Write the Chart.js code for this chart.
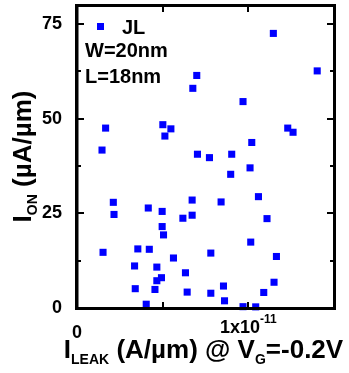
<!DOCTYPE html>
<html>
<head>
<meta charset="utf-8">
<script src="https://cdn.jsdelivr.net/npm/chart.js@4.4.0/dist/chart.umd.min.js"></script>
<style>
  html, body { margin: 0; padding: 0; background: #fff; overflow: hidden; }
  #wrap { width: 349px; height: 373px; }
  canvas { display: block; }
</style>
</head>
<body>
<div id="wrap"><canvas id="chart" width="349" height="373"></canvas></div>
<script>
// leakage current (units of 1e-11 A/um) and on current (uA/um)
var leakX = [1.146, 1.402, 0.699, 0.676, 0.969, 0.167, 0.501, 0.548, 0.513, 1.230,
  1.261, 1.020, 0.146, 0.703, 0.773, 0.903, 1.010, 0.897, 0.212, 0.216,
  0.416, 0.497, 0.672, 0.841, 1.059, 0.618, 0.672, 1.109, 0.497, 0.505,
  1.014, 0.152, 0.355, 0.422, 0.563, 0.781, 1.164, 0.336, 0.466, 0.633,
  0.466, 0.493, 0.340, 0.455, 0.643, 0.781, 0.855, 0.861, 0.404, 0.969,
  1.043, 1.090, 1.150];
var ionY = [72.5, 62.6, 61.4, 58.0, 54.5, 47.5, 48.4, 47.3, 45.4, 47.5,
  46.4, 43.7, 41.7, 40.6, 39.7, 40.6, 37.0, 35.3, 27.9, 24.7,
  26.4, 25.5, 28.5, 28.0, 29.4, 23.7, 24.5, 23.6, 21.5, 19.3,
  17.4, 14.7, 15.6, 15.5, 13.2, 14.5, 13.6, 11.1, 10.8, 9.3,
  7.2, 8.0, 5.1, 4.9, 4.2, 3.9, 5.8, 1.9, 1.0, 0.35,
  0.3, 4.1, 6.8];
var yTicks = [0, 12.5, 25, 37.5, 50, 62.5, 75];
var yLabels = [0, 25, 50, 75];
var xTicks = [0, 0.5e-11, 1e-11, 1.5e-11];
var seriesName = 'JL';
var notes = ['W=20nm', 'L=18nm'];

var FONT = '"Liberation Sans", Arial, sans-serif';
var BLUE = '#0000ff';

var points = [];
for (var i = 0; i < leakX.length; i++) {
  points.push({x: leakX[i] * 1e-11, y: ionY[i]});
}

// text made of pieces with own size / vertical shift (sub- and superscripts)
function richWidth(ctx, parts) {
  var w = 0;
  parts.forEach(function(p) {
    ctx.font = 'bold ' + p.size + 'px ' + FONT;
    w += ctx.measureText(p.t).width;
  });
  return w;
}
function drawRich(ctx, parts, x, y) {
  var cx = x;
  parts.forEach(function(p) {
    ctx.font = 'bold ' + p.size + 'px ' + FONT;
    ctx.fillText(p.t, cx, y + (p.dy || 0));
    cx += ctx.measureText(p.t).width;
  });
}

var framePlugin = {
  id: 'frame',
  afterDraw: function(chart) {
    var ctx = chart.ctx;
    var a = chart.chartArea;
    var xs = chart.scales.x, ys = chart.scales.y;
    var L = Math.round(a.left), R = Math.round(a.right), T = Math.round(a.top), B = Math.round(a.bottom);
    ctx.save();
    ctx.fillStyle = '#000';

    // inward ticks
    yTicks.forEach(function(v) {
      var py = Math.round(ys.getPixelForValue(v));
      var len = (yLabels.indexOf(v) >= 0) ? 7 : 4;
      ctx.fillRect(L, py - 1, len, 2);
      ctx.fillRect(R - len, py - 1, len, 2);
    });
    xTicks.forEach(function(v) {
      var px = Math.round(xs.getPixelForValue(v));
      ctx.fillRect(px - 1, B - 6, 2, 6);
      ctx.fillRect(px - 1, T, 2, 7);
    });

    // box, about 3px lines
    ctx.fillRect(L - 2, T - 1, R - L + 4, 3);
    ctx.fillRect(L - 2, B - 1, R - L + 4, 3);
    ctx.fillRect(L - 2, T - 1, 3, B - T + 3);
    ctx.fillRect(R - 1, T - 1, 3, B - T + 3);

    // x tick label with exponent
    ctx.textAlign = 'left';
    ctx.textBaseline = 'alphabetic';
    var lab = [{t: '1x10', size: 18}, {t: '-11', size: 12, dy: -10}];
    var lx = xs.getPixelForValue(1e-11);
    drawRich(ctx, lab, lx - richWidth(ctx, lab) / 2, B + 25);

    // x title
    var xt = [{t: 'I', size: 26}, {t: 'LEAK', size: 14, dy: 6}, {t: ' (A/\u00b5m) @ V', size: 26},
      {t: 'G', size: 14, dy: 6}, {t: '=-0.2V', size: 26}];
    drawRich(ctx, xt, (L + R) / 2 - richWidth(ctx, xt) / 2 - 2, 358);

    // y title, rotated
    var yt = [{t: 'I', size: 26}, {t: 'ON', size: 14, dy: 6}, {t: ' (\u00b5A/\u00b5m)', size: 26}];
    ctx.save();
    ctx.translate(31, (T + B) / 2);
    ctx.rotate(-Math.PI / 2);
    drawRich(ctx, yt, -richWidth(ctx, yt) / 2, 0);
    ctx.restore();

    // legend and notes
    ctx.fillStyle = BLUE;
    ctx.fillRect(97, 23, 7, 7);
    ctx.fillStyle = '#000';
    ctx.font = 'bold 20px ' + FONT;
    ctx.fillText(seriesName, 122, 34);
    ctx.fillText(notes[0], 85, 57);
    ctx.fillText(notes[1], 85, 83);
    ctx.restore();
  }
};

// plain mirror axes, only there to draw the top and right frame lines
function mirrorAxis(pos, min, max) {
  return {
    type: 'linear',
    position: pos,
    display: true,
    min: min,
    max: max,
    grid: {display: false},
    border: {display: true, color: '#000', width: 2.5},
    ticks: {display: false},
    afterFit: function(s) {
      if (pos === 'top') s.height = 0; else s.width = 0;
      s.paddingLeft = 0; s.paddingRight = 0; s.paddingTop = 0; s.paddingBottom = 0;
    }
  };
}

var x = document.getElementById('chart').getContext('2d');
var chart = new Chart(x, {
  type: 'scatter',
  data: {
    datasets: [{
      label: seriesName,
      data: points,
      xAxisID: 'x',
      yAxisID: 'y',
      pointStyle: 'rect',
      pointRadius: 5,
      pointHoverRadius: 5,
      backgroundColor: BLUE,
      borderColor: BLUE,
      borderWidth: 0,
      clip: false
    }]
  },
  options: {
    responsive: false,
    animation: false,
    events: [],
    layout: {padding: {left: 0, top: 5, right: 15, bottom: 0}},
    plugins: {legend: {display: false}, tooltip: {enabled: false}},
    scales: {
      x: {
        type: 'linear',
        position: 'bottom',
        min: 0,
        max: 1.5e-11,
        grid: {display: false},
        border: {display: true, color: '#000', width: 2.5},
        afterFit: function(s) { s.height = 65; s.paddingLeft = 0; s.paddingRight = 0; },
        afterBuildTicks: function(s) { s.ticks = xTicks.map(function(v) { return {value: v}; }); },
        ticks: {
          padding: 6,
          maxRotation: 0,
          autoSkip: false,
          color: '#000',
          font: {family: FONT, size: 18, weight: 'bold'},
          callback: function(v) { return v === 0 ? '0' : ''; }
        }
      },
      y: {
        position: 'left',
        min: 0,
        max: 80,
        grid: {display: false},
        border: {display: true, color: '#000', width: 2.5},
        afterFit: function(s) { s.width = 77; s.paddingTop = 0; s.paddingBottom = 0; },
        afterBuildTicks: function(s) { s.ticks = yTicks.map(function(v) { return {value: v}; }); },
        ticks: {
          padding: 7,
          autoSkip: false,
          color: '#000',
          font: {family: FONT, size: 18, weight: 'bold'},
          callback: function(v) { return yLabels.indexOf(v) >= 0 ? String(v) : ''; }
        }
      },
      x2: mirrorAxis('top', 0, 1.5e-11),
      y2: mirrorAxis('right', 0, 80)
    }
  },
  plugins: [framePlugin]
});
</script>
</body>
</html>
